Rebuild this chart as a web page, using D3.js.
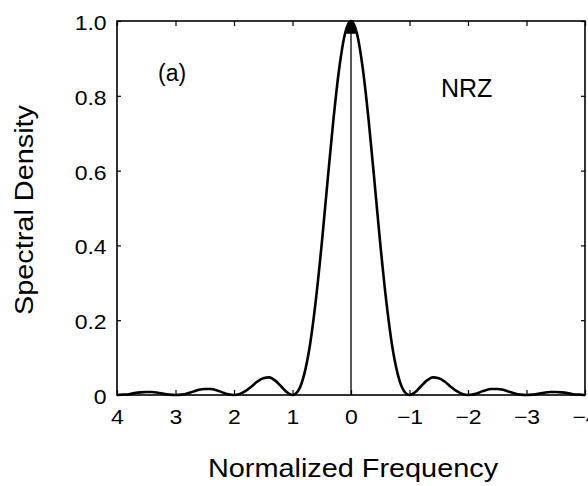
<!DOCTYPE html>
<html>
<head>
<meta charset="utf-8">
<script src="https://cdn.jsdelivr.net/npm/d3@7"></script>
<style>
  body { margin: 0; background: #fff; }
  text { font-family: "Liberation Sans", Arial, Helvetica, sans-serif; fill: #000; }
</style>
</head>
<body>
<div id="chart"></div>
<script>
// normalized frequency samples
var freq = [-4.0,-3.9,-3.8,-3.7,-3.6,-3.5,-3.4,-3.3,-3.2,-3.1,
            -3.0,-2.9,-2.8,-2.7,-2.6,-2.5,-2.4,-2.3,-2.2,-2.1,
            -2.0,-1.9,-1.8,-1.7,-1.6,-1.5,-1.4,-1.3,-1.2,-1.1,
            -1.0,-0.9,-0.8,-0.7,-0.6,-0.5,-0.4,-0.3,-0.2,-0.1,
             0.0,
             0.1, 0.2, 0.3, 0.4, 0.5, 0.6, 0.7, 0.8, 0.9, 1.0,
             1.1, 1.2, 1.3, 1.4, 1.5, 1.6, 1.7, 1.8, 1.9, 2.0,
             2.1, 2.2, 2.3, 2.4, 2.5, 2.6, 2.7, 2.8, 2.9, 3.0,
             3.1, 3.2, 3.3, 3.4, 3.5, 3.6, 3.7, 3.8, 3.9, 4.0]

// NRZ spectral density
var density = [0.000,0.001,0.002,0.005,0.007,0.008,0.008,0.006,0.003,0.001,
               0.000,0.001,0.004,0.009,0.014,0.016,0.016,0.013,0.007,0.002,
               0.000,0.003,0.011,0.023,0.036,0.045,0.047,0.039,0.024,0.008,
               0.000,0.012,0.055,0.135,0.255,0.405,0.573,0.737,0.875,0.968,
               1.000,
               0.968,0.875,0.737,0.573,0.405,0.255,0.135,0.055,0.012,0.000,
               0.008,0.024,0.039,0.047,0.045,0.036,0.023,0.011,0.003,0.000,
               0.002,0.007,0.013,0.016,0.016,0.014,0.009,0.004,0.001,0.000,
               0.001,0.003,0.006,0.008,0.008,0.007,0.005,0.002,0.001,0.000]

var xTicks = [4, 3, 2, 1, 0, -1, -2, -3, -4]
var yTicks = [0, 0.2, 0.4, 0.6, 0.8, 1.0]
var yTickLabels = ["0", "0.2", "0.4", "0.6", "0.8", "1.0"]

var data = freq.map(function(f, i) { return {f: f, v: density[i]}; })

var W = 588, H = 486
var margin = {top: 21, right: 3, bottom: 91, left: 117},
    width = W - margin.left - margin.right,
    height = H - margin.top - margin.bottom;

var svg = d3.select("#chart")
  .append("svg")
    .attr("width", W)
    .attr("height", H)
  .append("g")
    .attr("transform", "translate(" + margin.left + "," + margin.top + ")");

// axis runs from +4 on the left to -4 on the right
var x = d3.scaleLinear().domain([4, -4]).range([0, width])
var y = d3.scaleLinear().domain([0, 1]).range([height, 0])

// bottom axis
var gx = svg.append("g")
  .attr("transform", "translate(0," + height + ")")
  .call(d3.axisBottom(x).tickValues(xTicks).tickSize(-5).tickSizeOuter(0).tickPadding(15))
gx.select(".domain").remove()
gx.selectAll("text")
  .style("font-size", "20px")
  .attr("transform", "scale(1.15,1)")

// top axis ticks only
var gxt = svg.append("g")
  .call(d3.axisTop(x).tickValues(xTicks).tickSize(-5).tickSizeOuter(0).tickFormat(""))
gxt.select(".domain").remove()

// left axis
var gy = svg.append("g")
  .call(d3.axisLeft(y).tickValues(yTicks).tickSize(-4).tickSizeOuter(0)
    .tickFormat(function(d, i) { return yTickLabels[i]; }))
gy.select(".domain").remove()
gy.selectAll("text")
  .style("font-size", "20px")
  .attr("x", -9)
  .attr("dy", 0)
  .attr("y", 8.5)
  .attr("transform", "scale(1.15,1)")

// right axis ticks only
var gyr = svg.append("g")
  .attr("transform", "translate(" + width + ",0)")
  .call(d3.axisRight(y).tickValues(yTicks).tickSize(-4).tickSizeOuter(0).tickFormat(""))
gyr.select(".domain").remove()

svg.selectAll(".tick line").attr("stroke", "#000").attr("stroke-width", 1.2)

// frame
svg.append("rect")
  .attr("x", 0).attr("y", 0)
  .attr("width", width).attr("height", height)
  .attr("fill", "none")
  .attr("stroke", "#000")
  .attr("stroke-width", 1.6)

// thin marker at zero frequency
svg.append("line")
  .attr("x1", x(0)).attr("x2", x(0))
  .attr("y1", y(0)).attr("y2", y(1))
  .attr("stroke", "#000")
  .attr("stroke-width", 1.3)

// the spectrum
var line = d3.line()
  .x(function(d) { return x(d.f); })
  .y(function(d) { return y(d.v); })
  .curve(d3.curveMonotoneX)

svg.append("path")
  .datum(data)
  .attr("d", line)
  .attr("fill", "none")
  .attr("stroke", "#000")
  .attr("stroke-width", 2.6)
  .attr("stroke-linejoin", "round")

// filled tip of the main lobe
var tip = data.filter(function(d) { return d.v > 0.95; })
svg.append("path")
  .datum(tip)
  .attr("d", d3.line().x(function(d) { return x(d.f); }).y(function(d) { return y(d.v); }) (tip) + "Z")
  .attr("fill", "#000")
  .attr("stroke", "#000")
  .attr("stroke-width", 1.5)

// annotations
svg.append("text")
  .attr("x", 158 - margin.left)
  .attr("y", 81 - margin.top)
  .style("font-size", "23px")
  .text("(a)")

svg.append("text")
  .attr("x", 441 - margin.left)
  .attr("y", 97 - margin.top)
  .style("font-size", "25px")
  .text("NRZ")

// axis titles
svg.append("text")
  .attr("transform", "translate(" + (353 - margin.left) + "," + (477 - margin.top) + ") scale(1.11,1)")
  .attr("text-anchor", "middle")
  .style("font-size", "26px")
  .text("Normalized Frequency")

svg.append("text")
  .attr("transform", "translate(" + (33 - margin.left) + "," + (210 - margin.top) + ") rotate(-90) scale(1.11,1)")
  .attr("text-anchor", "middle")
  .style("font-size", "26px")
  .text("Spectral Density")
</script>
</body>
</html>
